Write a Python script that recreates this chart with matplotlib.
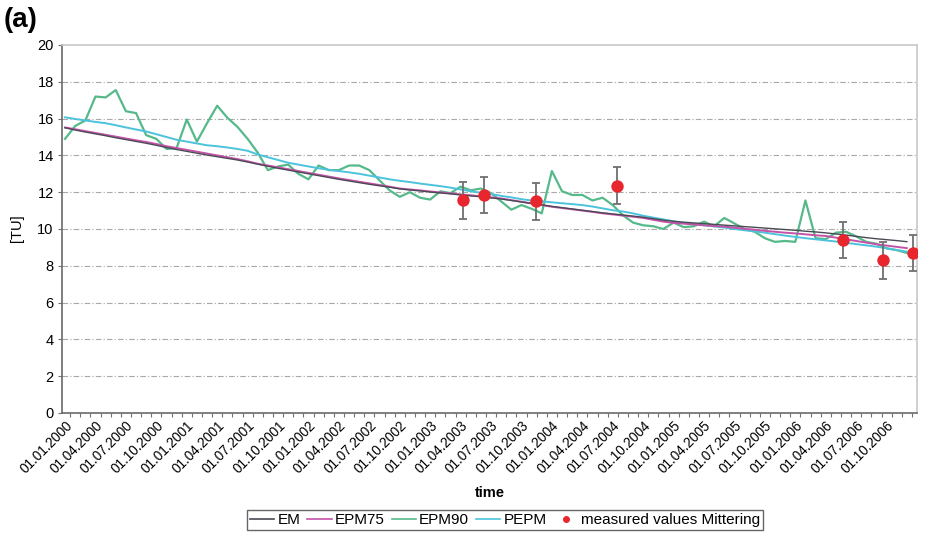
import matplotlib
matplotlib.use("Agg")
import matplotlib.pyplot as plt
from matplotlib.lines import Line2D
from matplotlib.transforms import ScaledTranslation

plt.rcParams['font.family'] = ['Liberation Sans', 'DejaVu Sans']

# Monthly model output, January 2000 .. December 2006 (84 months)
em = [15.50, 15.38, 15.27, 15.17, 15.07, 14.96, 14.86, 14.76, 14.66, 14.55, 14.43, 14.32,
      14.22, 14.12, 14.02, 13.93, 13.84, 13.75, 13.64, 13.52, 13.41, 13.30, 13.20, 13.10,
      13.00, 12.90, 12.80, 12.70, 12.61, 12.52, 12.43, 12.35, 12.27, 12.18, 12.12, 12.07,
      12.01, 11.96, 11.91, 11.85, 11.80, 11.75, 11.69, 11.63, 11.55, 11.47, 11.39, 11.31,
      11.23, 11.16, 11.09, 11.02, 10.95, 10.88, 10.82, 10.76, 10.70, 10.64, 10.56, 10.48,
      10.42, 10.37, 10.33, 10.29, 10.25, 10.21, 10.17, 10.13, 10.09, 10.05, 10.01, 9.97,
      9.93, 9.88, 9.84, 9.79, 9.73, 9.67, 9.60, 9.53, 9.47, 9.42, 9.37, 9.31]

epm75 = [15.52, 15.42, 15.32, 15.22, 15.12, 15.02, 14.92, 14.82, 14.73, 14.62, 14.50, 14.40,
         14.30, 14.20, 14.10, 14.00, 13.90, 13.80, 13.68, 13.55, 13.45, 13.35, 13.25, 13.15,
         13.05, 12.95, 12.85, 12.75, 12.66, 12.57, 12.48, 12.39, 12.30, 12.20, 12.15, 12.10,
         12.04, 11.99, 11.94, 11.88, 11.83, 11.78, 11.72, 11.66, 11.57, 11.48, 11.39, 11.30,
         11.21, 11.14, 11.07, 11.00, 10.93, 10.85, 10.79, 10.73, 10.67, 10.60, 10.50, 10.40,
         10.33, 10.29, 10.25, 10.20, 10.16, 10.13, 10.07, 10.01, 9.96, 9.90, 9.85, 9.80,
         9.76, 9.71, 9.66, 9.62, 9.53, 9.44, 9.35, 9.26, 9.17, 9.10, 9.03, 8.96]

epm90 = [14.90, 15.60, 15.90, 17.20, 17.15, 17.55, 16.40, 16.30, 15.10, 14.90, 14.35, 14.40,
         15.95, 14.75, 15.75, 16.70, 16.05, 15.55, 14.90, 14.15, 13.20, 13.40, 13.50, 13.00,
         12.70, 13.45, 13.20, 13.20, 13.45, 13.45, 13.20, 12.65, 12.10, 11.75, 12.00, 11.70,
         11.60, 12.05, 11.95, 12.30, 12.10, 12.20, 11.95, 11.50, 11.05, 11.30, 11.10, 10.85,
         13.15, 12.05, 11.85, 11.85, 11.55, 11.70, 11.30, 10.75, 10.35, 10.20, 10.15, 10.00,
         10.35, 10.10, 10.15, 10.40, 10.15, 10.60, 10.30, 10.00, 9.85, 9.50, 9.30, 9.35,
         9.30, 11.55, 9.50, 9.45, 9.80, 9.85, 9.60, 9.30, 9.20, 8.95, 8.85, 8.70]

pepm = [16.07, 15.98, 15.90, 15.82, 15.75, 15.64, 15.52, 15.41, 15.30, 15.15, 15.00, 14.85,
        14.75, 14.65, 14.55, 14.50, 14.43, 14.35, 14.25, 14.05, 13.90, 13.75, 13.60, 13.50,
        13.40, 13.30, 13.22, 13.15, 13.08, 13.00, 12.90, 12.80, 12.70, 12.62, 12.55, 12.47,
        12.40, 12.33, 12.25, 12.15, 12.05, 11.97, 11.90, 11.80, 11.72, 11.62, 11.55, 11.50,
        11.45, 11.40, 11.35, 11.30, 11.22, 11.12, 11.02, 10.95, 10.85, 10.72, 10.62, 10.52,
        10.42, 10.33, 10.27, 10.20, 10.14, 10.08, 10.00, 9.93, 9.87, 9.80, 9.72, 9.64,
        9.57, 9.50, 9.44, 9.38, 9.32, 9.25, 9.18, 9.11, 9.04, 8.95, 8.86, 8.77]

# Measurements (time in months since 01.01.2000) with uncertainty
meas_month = [39.2, 41.3, 46.4, 54.4, 76.7, 80.6, 83.6]
meas_value = [11.55, 11.85, 11.50, 12.35, 9.40, 8.30, 8.70]
meas_err = [1.0, 1.0, 1.0, 1.0, 1.0, 1.0, 1.0]

tick_labels = ["01.01.2000", "01.04.2000", "01.07.2000", "01.10.2000",
               "01.01.2001", "01.04.2001", "01.07.2001", "01.10.2001",
               "01.01.2002", "01.04.2002", "01.07.2002", "01.10.2002",
               "01.01.2003", "01.04.2003", "01.07.2003", "01.10.2003",
               "01.01.2004", "01.04.2004", "01.07.2004", "01.10.2004",
               "01.01.2005", "01.04.2005", "01.07.2005", "01.10.2005",
               "01.01.2006", "01.04.2006", "01.07.2006", "01.10.2006"]

months = list(range(len(em)))

fig = plt.figure(figsize=(9.29, 5.35), dpi=100)
ax = fig.add_axes([62 / 929, 1 - 413 / 535, (917 - 62) / 929, (413 - 45) / 535])

c_em = "#4a4a55"
c_75 = "#c453a8"
c_90 = "#55b98a"
c_pe = "#4cc3dc"
c_red = "#e8262e"

ax.plot(months, epm90, color=c_90, lw=1.6, zorder=3)
ax.plot(months, pepm, color=c_pe, lw=1.4, zorder=3)
ax.plot(months, epm75, color=c_75, lw=1.4, zorder=4)
ax.plot(months, em, color=c_em, lw=1.0, zorder=4)
ax.errorbar(meas_month, meas_value, yerr=meas_err, fmt="none", ecolor="#707070",
            elinewidth=1.3, capsize=3, capthick=1.3, zorder=5)
ax.scatter(meas_month, meas_value, s=80, color=c_red, zorder=6, linewidths=0)

ax.set_xlim(-0.3, 84.0)
ax.set_ylim(0, 20)
ax.set_yticks(range(0, 21, 2))
ax.set_xticks(months[::3])
ax.set_xticklabels(tick_labels, rotation=45, ha="right", va="top",
                   rotation_mode="anchor", fontsize=9.8)
shift = ScaledTranslation(-5 / 100, 0, fig.dpi_scale_trans)
for lab in ax.get_xticklabels():
    lab.set_transform(lab.get_transform() + shift)
ax.set_xticks([m + 0.5 for m in months], minor=True)
ax.tick_params(axis="x", which="major", length=0, pad=4)
ax.tick_params(axis="x", which="minor", length=3, color="#707070", width=0.8)
ax.tick_params(axis="y", length=3, color="#707070", width=0.8, labelsize=10.5, pad=3)

for y in range(2, 20, 2):
    ax.axhline(y, color="#a8a8a8", lw=0.8, ls=(0, (5, 2, 1, 2)), zorder=1)

for side in ("top", "right"):
    ax.spines[side].set_color("#c8c8c8")
    ax.spines[side].set_linewidth(1.2)
for side in ("left", "bottom"):
    ax.spines[side].set_color("#6a6a6a")
    ax.spines[side].set_linewidth(1.2)

fig.text(490 / 929, 1 - 493 / 535, "time", ha="center", va="center",
         fontsize=10.5, fontweight="bold")
fig.text(17 / 929, 1 - 228 / 535, "[TU]", ha="center", va="center",
         rotation=90, fontsize=10.5)
fig.text(4 / 929, 1 - 20 / 535, "(a)", ha="left", va="center",
         fontsize=20, fontweight="bold")

handles = [
    Line2D([], [], color=c_em, lw=1.2),
    Line2D([], [], color=c_75, lw=1.2),
    Line2D([], [], color=c_90, lw=1.2),
    Line2D([], [], color=c_pe, lw=1.2),
    Line2D([], [], color=c_red, lw=0, marker="o", markersize=4),
]
names = ["EM", "EPM75", "EPM90", "PEPM", "measured values Mittering"]
leg = fig.legend(handles, names, loc="center", bbox_to_anchor=(505 / 929, 1 - 520 / 535),
                 ncol=5, fontsize=11, frameon=True, fancybox=False,
                 edgecolor="#404040", handlelength=1.6, handletextpad=0.2,
                 columnspacing=0.45, borderpad=0.22, borderaxespad=0)
leg.get_frame().set_linewidth(1.0)

fig.savefig("out.png", dpi=100)
